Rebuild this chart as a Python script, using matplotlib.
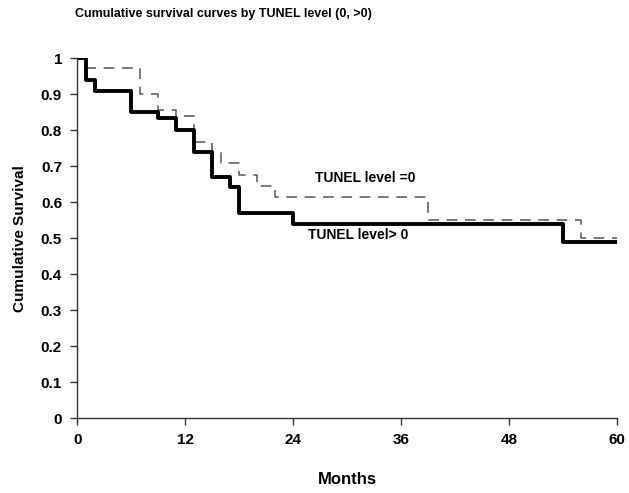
import matplotlib
matplotlib.use("Agg")
import matplotlib.pyplot as plt

plt.rcParams['font.family'] = ['Liberation Sans', 'DejaVu Sans']

# TUNEL level > 0 (solid)
t_pos = [0, 1, 2, 6, 9, 11, 13, 15, 17, 18, 24, 54, 60]
s_pos = [1.0, 0.94, 0.91, 0.85, 0.833, 0.80, 0.74, 0.67, 0.643, 0.57, 0.54, 0.49, 0.49]

# TUNEL level = 0 (dashed)
t_zero = [0, 1, 7, 9, 11, 13, 15, 16, 18, 20, 22, 39, 56, 60]
s_zero = [1.0, 0.974, 0.90, 0.857, 0.84, 0.767, 0.738, 0.71, 0.674, 0.644, 0.615, 0.55, 0.50, 0.50]

xticks = [0, 12, 24, 36, 48, 60]
yticks = [0, 0.1, 0.2, 0.3, 0.4, 0.5, 0.6, 0.7, 0.8, 0.9, 1]
ytick_labels = ['0', '0.1', '0.2', '0.3', '0.4', '0.5', '0.6', '0.7', '0.8', '0.9', '1']

fig = plt.figure(figsize=(6.29, 4.93), dpi=100)
ax = fig.add_axes([0.123, 0.152, 0.858, 0.730])

ax.step(t_zero, s_zero, where='post', color='#555555', lw=1.1,
        linestyle=(0, (7, 5)))
ax.step(t_pos, s_pos, where='post', color='black', lw=2.8)

ax.set_xlim(0, 60)
ax.set_ylim(0, 1)
ax.set_xticks(xticks)
ax.set_yticks(yticks)
ax.set_yticklabels(ytick_labels)
for s in ['top', 'right']:
    ax.spines[s].set_visible(False)
for s in ['left', 'bottom']:
    ax.spines[s].set_color('#333333')
    ax.spines[s].set_linewidth(1.0)
ax.tick_params(direction='out', length=5, width=1, color='#333333',
               labelsize=11, pad=6)
for lab in ax.get_xticklabels() + ax.get_yticklabels():
    lab.set_fontweight('bold')

ax.set_xlabel('Months', fontsize=12, fontweight='bold', labelpad=18)
ax.set_ylabel('Cumulative Survival', fontsize=11, fontweight='bold', labelpad=10)

ax.text(26.4, 0.668, 'TUNEL level =0', fontsize=10, fontweight='bold',
        ha='left', va='center')
ax.text(25.6, 0.51, 'TUNEL level> 0', fontsize=10, fontweight='bold',
        ha='left', va='center')

fig.text(75 / 629, 1 - 14 / 493, 'Cumulative survival curves by TUNEL level (0, >0)',
         fontsize=9, fontweight='bold', ha='left', va='center')

fig.savefig('out.png', dpi=100)
